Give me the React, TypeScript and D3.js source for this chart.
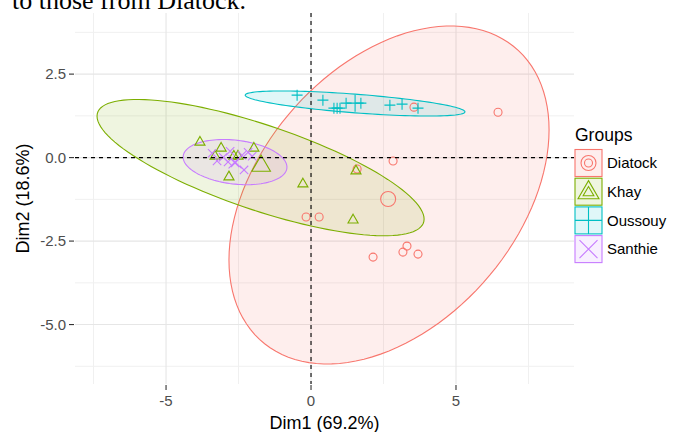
import React from "react";
import * as d3 from "d3";

// groups and colours (ggplot default hue palette)
const groups = ["Diatock", "Khay", "Oussouy", "Santhie"];
const colors = ["#F8766D", "#7CAE00", "#00BFC4", "#C77CFF"];
const shapes = ["circle", "triangle", "plus", "cross"];

// individuals
const diatockDim1 = [6.45, 3.55, 2.83, 1.59, -0.17, 0.28, 2.14, 3.17, 3.31, 3.69];
const diatockDim2 = [1.36, 1.51, -0.1, -0.34, -1.78, -1.78, -2.98, -2.83, -2.65, -2.89];
const khayDim1 = [-3.83, -3.1, -3.31, -2.66, -2.52, -1.97, -2.83, -0.28, 1.55, 1.45];
const khayDim2 = [0.46, 0.28, 0.04, 0.04, 0.04, 0.28, -0.58, -0.79, -0.4, -1.87];
const oussouyDim1 = [-0.48, 0.41, 0.79, 0.9, 1.0, 1.21, 1.72, 2.72, 3.14, 3.69];
const oussouyDim2 = [1.87, 1.72, 1.48, 1.48, 1.48, 1.63, 1.63, 1.57, 1.6, 1.48];
const santhieDim1 = [-3.41, -3.24, -3.03, -2.86, -2.62, -2.38, -2.17, -2.03, -2.31, -2.79];
const santhieDim2 = [0.13, -0.1, 0.01, -0.13, -0.16, 0.07, 0.16, 0.04, -0.37, 0.19];

// group means (bigger symbols)
const meanDim1 = [2.66, -1.72, 1.52, -2.62];
const meanDim2 = [-1.24, -0.25, 1.63, -0.13];

// concentration ellipses: centre + conjugate semi-axes (data units)
const ellCx = [2.69, -1.74, 1.52, -2.62];
const ellCy = [-1.12, -0.3, 1.62, -0.135];
const ellUx = [5.52, 5.64, 3.79, 1.79];
const ellUy = [1.95, -1.54, -0.25, -0.15];
const ellVy = [4.67, 1.34, 0.28, 0.66];

const xTicks = [-5, 0, 5];
const xMinor = [-7.5, -2.5, 2.5, 7.5];
const yTicks = [2.5, 0, -2.5, -5];
const yMinor = [3.75, 1.25, -1.25, -3.75, -6.25];

const W = 679;
const H = 432;
const panel = { left: 75, right: 574, top: 13, bottom: 384 };
const font = "'Liberation Sans', Arial, sans-serif";

const pointsByGroup = [
  [diatockDim1, diatockDim2],
  [khayDim1, khayDim2],
  [oussouyDim1, oussouyDim2],
  [santhieDim1, santhieDim2],
];

// plain hyphen for negatives, like R does
const fmtY = (v: number) => v.toFixed(1);
const fmtX = (v: number) => String(v);

function marker(shape: string, big: boolean) {
  if (shape === "circle") return null;
  if (shape === "triangle") {
    return d3.symbol(d3.symbolTriangle, big ? 150 : 44)() as string;
  }
  const r = big ? 8.5 : 5.5;
  if (shape === "plus") return `M${-r},0H${r}M0,${-r}V${r}`;
  const c = big ? 6.5 : 4.2;
  return `M${-c},${-c}L${c},${c}M${-c},${c}L${c},${-c}`;
}

const Symbol = ({ shape, color, x, y, big }: any) => {
  if (shape === "circle") {
    return <circle cx={x} cy={y} r={big ? 7.5 : 4} fill="none" stroke={color} strokeWidth={1.1} />;
  }
  return (
    <path d={marker(shape, big) as string} transform={`translate(${x},${y})`}
      fill="none" stroke={color} strokeWidth={1.1} />
  );
};

export default function App() {
  const x = d3.scaleLinear().domain([-8.14, 9.07]).range([panel.left, panel.right]);
  const y = d3.scaleLinear().domain([-6.78, 4.33]).range([panel.bottom, panel.top]);

  const ts = d3.range(0, 120).map((i) => (i / 120) * Math.PI * 2);
  const ellipsePath = (g: number) =>
    d3
      .line<number>()
      .x((t) => x(ellCx[g] + ellUx[g] * Math.cos(t)))
      .y((t) => y(ellCy[g] + ellUy[g] * Math.cos(t) + ellVy[g] * Math.sin(t)))
      .curve(d3.curveLinearClosed)(ts) as string;

  const legendTop = 149.5;
  const keyStep = 28.7;
  const keySize = 27;

  return (
    <div style={{ position: "fixed", left: 0, top: 0 }}>
      <svg width={W} height={H} style={{ display: "block", background: "#fff" }}>
        <text x={12} y={9} fontFamily="'Liberation Serif', 'Times New Roman', serif" fontSize={26} fill="#000">
          to those from Diatock.
        </text>

        {/* grid */}
        <g>
          {xMinor.map((v) => (
            <line key={"xm" + v} x1={x(v)} x2={x(v)} y1={panel.top} y2={panel.bottom} stroke="#f0f0f0" strokeWidth={1} />
          ))}
          {yMinor.map((v) => (
            <line key={"ym" + v} x1={panel.left} x2={panel.right} y1={y(v)} y2={y(v)} stroke="#f0f0f0" strokeWidth={1} />
          ))}
          {xTicks.map((v) => (
            <line key={"xg" + v} x1={x(v)} x2={x(v)} y1={panel.top} y2={panel.bottom} stroke="#e6e6e6" strokeWidth={1.1} />
          ))}
          {yTicks.map((v) => (
            <line key={"yg" + v} x1={panel.left} x2={panel.right} y1={y(v)} y2={y(v)} stroke="#e6e6e6" strokeWidth={1.1} />
          ))}
        </g>

        {/* ellipses */}
        {groups.map((g, i) => (
          <path key={"e" + g} d={ellipsePath(i)} fill={colors[i]} fillOpacity={0.12} stroke={colors[i]} strokeWidth={1.1} />
        ))}

        {/* individuals */}
        {pointsByGroup.map(([d1, d2], gi) =>
          d1.map((v, j) => (
            <Symbol key={gi + "-" + j} shape={shapes[gi]} color={colors[gi]} x={x(v)} y={y(d2[j])} big={false} />
          ))
        )}
        {groups.map((g, i) => (
          <Symbol key={"m" + g} shape={shapes[i]} color={colors[i]} x={x(meanDim1[i])} y={y(meanDim2[i])} big={true} />
        ))}

        {/* reference lines */}
        <line x1={panel.left} x2={panel.right} y1={y(0)} y2={y(0)} stroke="#000" strokeWidth={1.1} strokeDasharray="4,4" />
        <line x1={x(0)} x2={x(0)} y1={panel.top} y2={panel.bottom} stroke="#000" strokeWidth={1.1} strokeDasharray="4,4" />

        {/* axes */}
        {xTicks.map((v) => (
          <g key={"xt" + v}>
            <line x1={x(v)} x2={x(v)} y1={panel.bottom + 1} y2={panel.bottom + 6} stroke="#333" strokeWidth={1.1} />
            <text x={x(v)} y={406} textAnchor="middle" fontFamily={font} fontSize={15} fill="#4d4d4d">
              {fmtX(v)}
            </text>
          </g>
        ))}
        {yTicks.map((v) => (
          <g key={"yt" + v}>
            <line x1={panel.left - 6} x2={panel.left - 1} y1={y(v)} y2={y(v)} stroke="#333" strokeWidth={1.1} />
            <text x={panel.left - 9} y={y(v)} dy="0.35em" textAnchor="end" fontFamily={font} fontSize={15} fill="#4d4d4d">
              {fmtY(v)}
            </text>
          </g>
        ))}
        <text x={(panel.left + panel.right) / 2} y={429} textAnchor="middle" fontFamily={font} fontSize={18} fill="#000">
          Dim1 (69.2%)
        </text>
        <text transform={`translate(29,${(panel.top + panel.bottom) / 2}) rotate(-90)`} textAnchor="middle"
          fontFamily={font} fontSize={18} fill="#000">
          Dim2 (18.6%)
        </text>

        {/* legend */}
        <text x={575} y={141} fontFamily={font} fontSize={17.5} fill="#000">
          Groups
        </text>
        {groups.map((g, i) => {
          const top = legendTop + i * keyStep;
          const cx = 575 + keySize / 2;
          const cy = top + keySize / 2;
          const s = shapes[i];
          return (
            <g key={"l" + g}>
              <rect x={575} y={top} width={keySize} height={keySize} fill={colors[i]} fillOpacity={0.12} stroke={colors[i]} strokeWidth={1.1} />
              {s === "circle" && (
                <>
                  <circle cx={cx} cy={cy} r={7.5} fill="none" stroke={colors[i]} strokeWidth={1.1} />
                  <circle cx={cx} cy={cy} r={4} fill="none" stroke={colors[i]} strokeWidth={1.1} />
                </>
              )}
              {s === "triangle" && (
                <>
                  <path d={d3.symbol(d3.symbolTriangle, 190)() as string} transform={`translate(${cx},${cy + 1})`} fill="none" stroke={colors[i]} strokeWidth={1.1} />
                  <path d={d3.symbol(d3.symbolTriangle, 50)() as string} transform={`translate(${cx},${cy + 1})`} fill="none" stroke={colors[i]} strokeWidth={1.1} />
                </>
              )}
              {s === "plus" && (
                <path d={`M${575},${cy}H${575 + keySize}M${cx},${top}V${top + keySize}`} fill="none" stroke={colors[i]} strokeWidth={1.1} />
              )}
              {s === "cross" && (
                <path d={`M${cx - 9},${cy - 9}L${cx + 9},${cy + 9}M${cx - 9},${cy + 9}L${cx + 9},${cy - 9}`} fill="none" stroke={colors[i]} strokeWidth={1.1} />
              )}
              <text x={607} y={cy} dy="0.35em" fontFamily={font} fontSize={15} fill="#000">
                {g}
              </text>
            </g>
          );
        })}
      </svg>
    </div>
  );
}
